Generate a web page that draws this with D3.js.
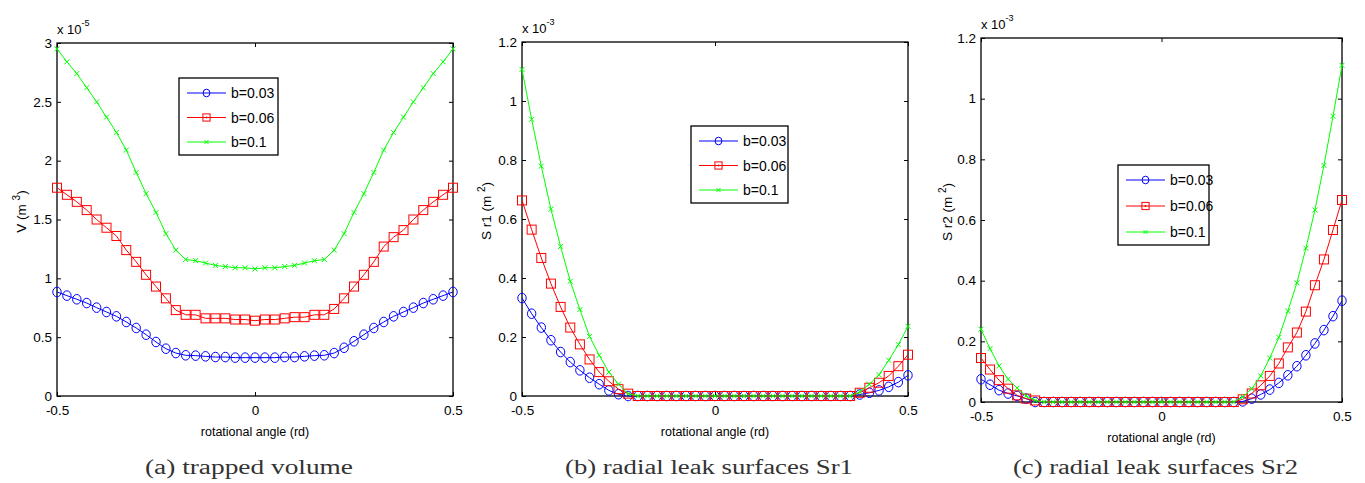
<!DOCTYPE html>
<html>
<head>
<meta charset="utf-8">
<script src="https://d3js.org/d3.v7.min.js"></script>
<style>
  body { margin: 0; background: #fff; }
  svg { display: block; }
</style>
</head>
<body>
<svg width="1365" height="483"></svg>
<script>
// rotational angle (rd), same 41 samples for every curve
var angles = [-0.5, -0.475, -0.45, -0.425, -0.4, -0.375, -0.35, -0.325, -0.3, -0.275,
              -0.25, -0.225, -0.2, -0.175, -0.15, -0.125, -0.1, -0.075, -0.05, -0.025,
              0, 0.025, 0.05, 0.075, 0.1, 0.125, 0.15, 0.175, 0.2, 0.225,
              0.25, 0.275, 0.3, 0.325, 0.35, 0.375, 0.4, 0.425, 0.45, 0.475, 0.5];

var legendLabels = ["b=0.03", "b=0.06", "b=0.1"];

// (a) trapped volume, x 10^-5 m^3
var volB003 = [0.884, 0.853, 0.822, 0.790, 0.751, 0.714, 0.677, 0.629, 0.578, 0.521,
               0.459, 0.402, 0.365, 0.346, 0.343, 0.337, 0.331, 0.331, 0.326, 0.326,
               0.326, 0.326, 0.326, 0.331, 0.331, 0.337, 0.343, 0.346, 0.365, 0.410,
               0.465, 0.521, 0.578, 0.629, 0.677, 0.714, 0.751, 0.790, 0.822, 0.853, 0.884];
var volB006 = [1.77, 1.71, 1.65, 1.58, 1.50, 1.43, 1.36, 1.24, 1.14, 1.03,
               0.93, 0.83, 0.73, 0.69, 0.69, 0.66, 0.66, 0.66, 0.65, 0.65,
               0.64, 0.65, 0.65, 0.66, 0.67, 0.67, 0.69, 0.69, 0.74, 0.83,
               0.93, 1.03, 1.14, 1.27, 1.35, 1.41, 1.50, 1.58, 1.65, 1.71, 1.77];
var volB01  = [2.95, 2.84, 2.74, 2.62, 2.50, 2.37, 2.24, 2.09, 1.90, 1.72,
               1.56, 1.38, 1.24, 1.16, 1.15, 1.13, 1.11, 1.10, 1.09, 1.09,
               1.08, 1.09, 1.09, 1.10, 1.11, 1.13, 1.15, 1.16, 1.24, 1.38,
               1.56, 1.72, 1.90, 2.09, 2.24, 2.37, 2.50, 2.62, 2.74, 2.84, 2.95];

// (b) radial leak surface Sr1, x 10^-3 m^2
var sr1B003 = [0.332, 0.279, 0.232, 0.189, 0.149, 0.115, 0.087, 0.062, 0.040, 0.019,
               0.006, 0, 0, 0, 0, 0, 0, 0, 0, 0,
               0, 0, 0, 0, 0, 0, 0, 0, 0, 0,
               0, 0, 0, 0, 0, 0.005, 0.011, 0.019, 0.031, 0.047, 0.070];
var sr1B006 = [0.663, 0.564, 0.468, 0.381, 0.302, 0.232, 0.175, 0.124, 0.081, 0.050,
               0.023, 0.008, 0, 0, 0, 0, 0, 0, 0, 0,
               0, 0, 0, 0, 0, 0, 0, 0, 0, 0,
               0, 0, 0, 0, 0, 0.011, 0.028, 0.045, 0.068, 0.101, 0.140];
var sr1B01  = [1.107, 0.938, 0.779, 0.633, 0.507, 0.389, 0.293, 0.202, 0.138, 0.081,
               0.040, 0.008, 0, 0, 0, 0, 0, 0, 0, 0,
               0, 0, 0, 0, 0, 0, 0, 0, 0, 0,
               0, 0, 0, 0, 0, 0.014, 0.040, 0.072, 0.121, 0.174, 0.236];

// (c) radial leak surface Sr2, x 10^-3 m^2
var sr2B003 = [0.075, 0.057, 0.039, 0.028, 0.020, 0.011, 0, 0, 0, 0,
               0, 0, 0, 0, 0, 0, 0, 0, 0, 0,
               0, 0, 0, 0, 0, 0, 0, 0, 0, 0.002,
               0.011, 0.025, 0.041, 0.063, 0.088, 0.118, 0.154, 0.193, 0.237, 0.283, 0.334];
var sr2B006 = [0.145, 0.107, 0.072, 0.044, 0.022, 0.011, 0.005, 0, 0, 0,
               0, 0, 0, 0, 0, 0, 0, 0, 0, 0,
               0, 0, 0, 0, 0, 0, 0, 0, 0, 0.009,
               0.028, 0.055, 0.086, 0.127, 0.180, 0.229, 0.298, 0.385, 0.470, 0.567, 0.666];
var sr2B01  = [0.240, 0.176, 0.119, 0.075, 0.046, 0.020, 0.005, 0, 0, 0,
               0, 0, 0, 0, 0, 0, 0, 0, 0, 0,
               0, 0, 0, 0, 0, 0, 0, 0, 0, 0.017,
               0.044, 0.086, 0.145, 0.213, 0.300, 0.393, 0.507, 0.633, 0.780, 0.942, 1.110];

var xTicks   = [-0.5, 0, 0.5];
var volTicks = [0, 0.5, 1, 1.5, 2, 2.5, 3];
var srTicks  = [0, 0.2, 0.4, 0.6, 0.8, 1, 1.2];

var colors  = ["#0000ff", "#ff0000", "#00ff00"];
var markers = ["circle", "square", "cross"];
var sans = "'Liberation Sans', Arial, sans-serif";

var panels = [
  { left: 57, right: 453, top: 43, bottom: 396, ymax: 3, yTicks: volTicks,
    series: [volB003, volB006, volB01], ylab: ["V  (m ", "3", ")"], ylabX: 22,
    expo: "-5", caption: "(a) trapped volume", capW: 208,
    legend: { x: 179, y: 78, w: 99, h: 77 } },
  { left: 522, right: 908, top: 42, bottom: 396, ymax: 1.2, yTicks: srTicks,
    series: [sr1B003, sr1B006, sr1B01], ylab: ["S r1  (m ", "2", ")"], ylabX: 487,
    expo: "-3", caption: "(b) radial leak surfaces Sr1", capW: 288,
    legend: { x: 691, y: 126, w: 97, h: 77 } },
  { left: 981, right: 1342, top: 38, bottom: 402, ymax: 1.2, yTicks: srTicks,
    series: [sr2B003, sr2B006, sr2B01], ylab: ["S r2  (m ", "2", ")"], ylabX: 948,
    expo: "-3", caption: "(c) radial leak surfaces Sr2", capW: 285,
    legend: { x: 1118, y: 165, w: 91, h: 80 } }
];

var svg = d3.select("svg");

function drawMarker(g, type, cx, cy, color, s) {
  if (type == "circle") {
    g.append("ellipse").attr("cx", cx).attr("cy", cy)
     .attr("rx", 4.2 * s).attr("ry", 4.8 * s)
     .attr("fill", "none").attr("stroke", color);
  } else if (type == "square") {
    g.append("rect").attr("x", cx - 4.5 * s).attr("y", cy - 4.5 * s)
     .attr("width", 9 * s).attr("height", 9 * s)
     .attr("fill", "none").attr("stroke", color);
  } else {
    var r = 2.5 * s;
    g.append("path")
     .attr("d", "M" + (cx - r) + "," + (cy - r) + "L" + (cx + r) + "," + (cy + r) +
                "M" + (cx - r) + "," + (cy + r) + "L" + (cx + r) + "," + (cy - r))
     .attr("stroke", color).attr("fill", "none");
  }
}

panels.forEach(function(p) {
  var x = d3.scaleLinear().domain([-0.5, 0.5]).range([p.left, p.right]);
  var y = d3.scaleLinear().domain([0, p.ymax]).range([p.bottom, p.top]);
  var g = svg.append("g").attr("font-family", sans);

  // axes, ticks pointing inwards like matlab
  var ax = g.append("g").attr("transform", "translate(0," + p.bottom + ")")
    .call(d3.axisBottom(x).tickValues(xTicks).tickFormat(String)
      .tickSizeInner(-4).tickSizeOuter(0).tickPadding(9));
  var ay = g.append("g").attr("transform", "translate(" + p.left + ",0)")
    .call(d3.axisLeft(y).tickValues(p.yTicks).tickFormat(String)
      .tickSizeInner(-4).tickSizeOuter(0).tickPadding(5));
  var at = g.append("g").attr("transform", "translate(0," + p.top + ")")
    .call(d3.axisTop(x).tickValues(xTicks).tickFormat("")
      .tickSizeInner(-4).tickSizeOuter(0));
  var ar = g.append("g").attr("transform", "translate(" + p.right + ",0)")
    .call(d3.axisRight(y).tickValues(p.yTicks).tickFormat("")
      .tickSizeInner(-4).tickSizeOuter(0));
  [ax, ay, at, ar].forEach(function(a) {
    a.attr("font-family", sans).attr("font-size", 13.5);
    a.select(".domain").remove();
  });

  g.append("rect")
   .attr("x", p.left).attr("y", p.top)
   .attr("width", p.right - p.left).attr("height", p.bottom - p.top)
   .attr("fill", "none").attr("stroke", "#000").attr("stroke-width", 1.3);

  // curves
  p.series.forEach(function(vals, i) {
    var line = d3.line()
      .x(function(d, j) { return x(angles[j]); })
      .y(function(d) { return y(d); });
    g.append("path").datum(vals).attr("d", line)
     .attr("fill", "none").attr("stroke", colors[i]).attr("stroke-width", 1);
    var mg = g.append("g");
    vals.forEach(function(v, j) {
      drawMarker(mg, markers[i], x(angles[j]), y(v), colors[i], 1);
    });
  });

  // exponent label
  var ex = g.append("text").attr("x", p.left).attr("y", p.top - 9).attr("font-size", 13);
  ex.append("tspan").text("x 10");
  ex.append("tspan").attr("dy", -8).attr("font-size", 9).text(p.expo);

  // axis labels
  g.append("text")
   .attr("x", (p.left + p.right) / 2).attr("y", p.bottom + 40)
   .attr("text-anchor", "middle").attr("font-size", 12.5)
   .text("rotational angle (rd)");

  var yl = g.append("text")
   .attr("transform", "translate(" + p.ylabX + "," + ((p.top + p.bottom) / 2 - 8) + ") rotate(-90)")
   .attr("text-anchor", "middle").attr("font-size", 13.5);
  yl.append("tspan").attr("dy", 4).text(p.ylab[0]);
  yl.append("tspan").attr("dy", -6).attr("font-size", 10).text(p.ylab[1]);
  yl.append("tspan").attr("dy", 6).text(p.ylab[2]);

  // caption
  g.append("text")
   .attr("x", (p.left + p.right) / 2 - 6).attr("y", 474)
   .attr("text-anchor", "middle")
   .attr("font-family", "'Liberation Serif', 'DejaVu Serif', serif")
   .attr("font-size", 20).attr("fill", "#333")
   .attr("textLength", p.capW).attr("lengthAdjust", "spacingAndGlyphs")
   .text(p.caption);

  // legend
  var L = p.legend;
  var lg = g.append("g");
  lg.append("rect").attr("x", L.x).attr("y", L.y).attr("width", L.w).attr("height", L.h)
    .attr("fill", "#fff").attr("stroke", "#000").attr("stroke-width", 1.3);
  var step = (L.h - 28) / 2;
  legendLabels.forEach(function(lab, i) {
    var ly = L.y + 15 + i * step;
    lg.append("line").attr("x1", L.x + 8).attr("x2", L.x + 47)
      .attr("y1", ly).attr("y2", ly).attr("stroke", colors[i]);
    drawMarker(lg, markers[i], L.x + 27.5, ly, colors[i], 0.8);
    if (markers[i] == "square") {
      lg.append("circle").attr("cx", L.x + 27.5).attr("cy", ly).attr("r", 1).attr("fill", colors[i]);
    }
    lg.append("text").attr("x", L.x + 52).attr("y", ly + 5)
      .attr("font-size", 14).text(lab);
  });
});
</script>
</body>
</html>
